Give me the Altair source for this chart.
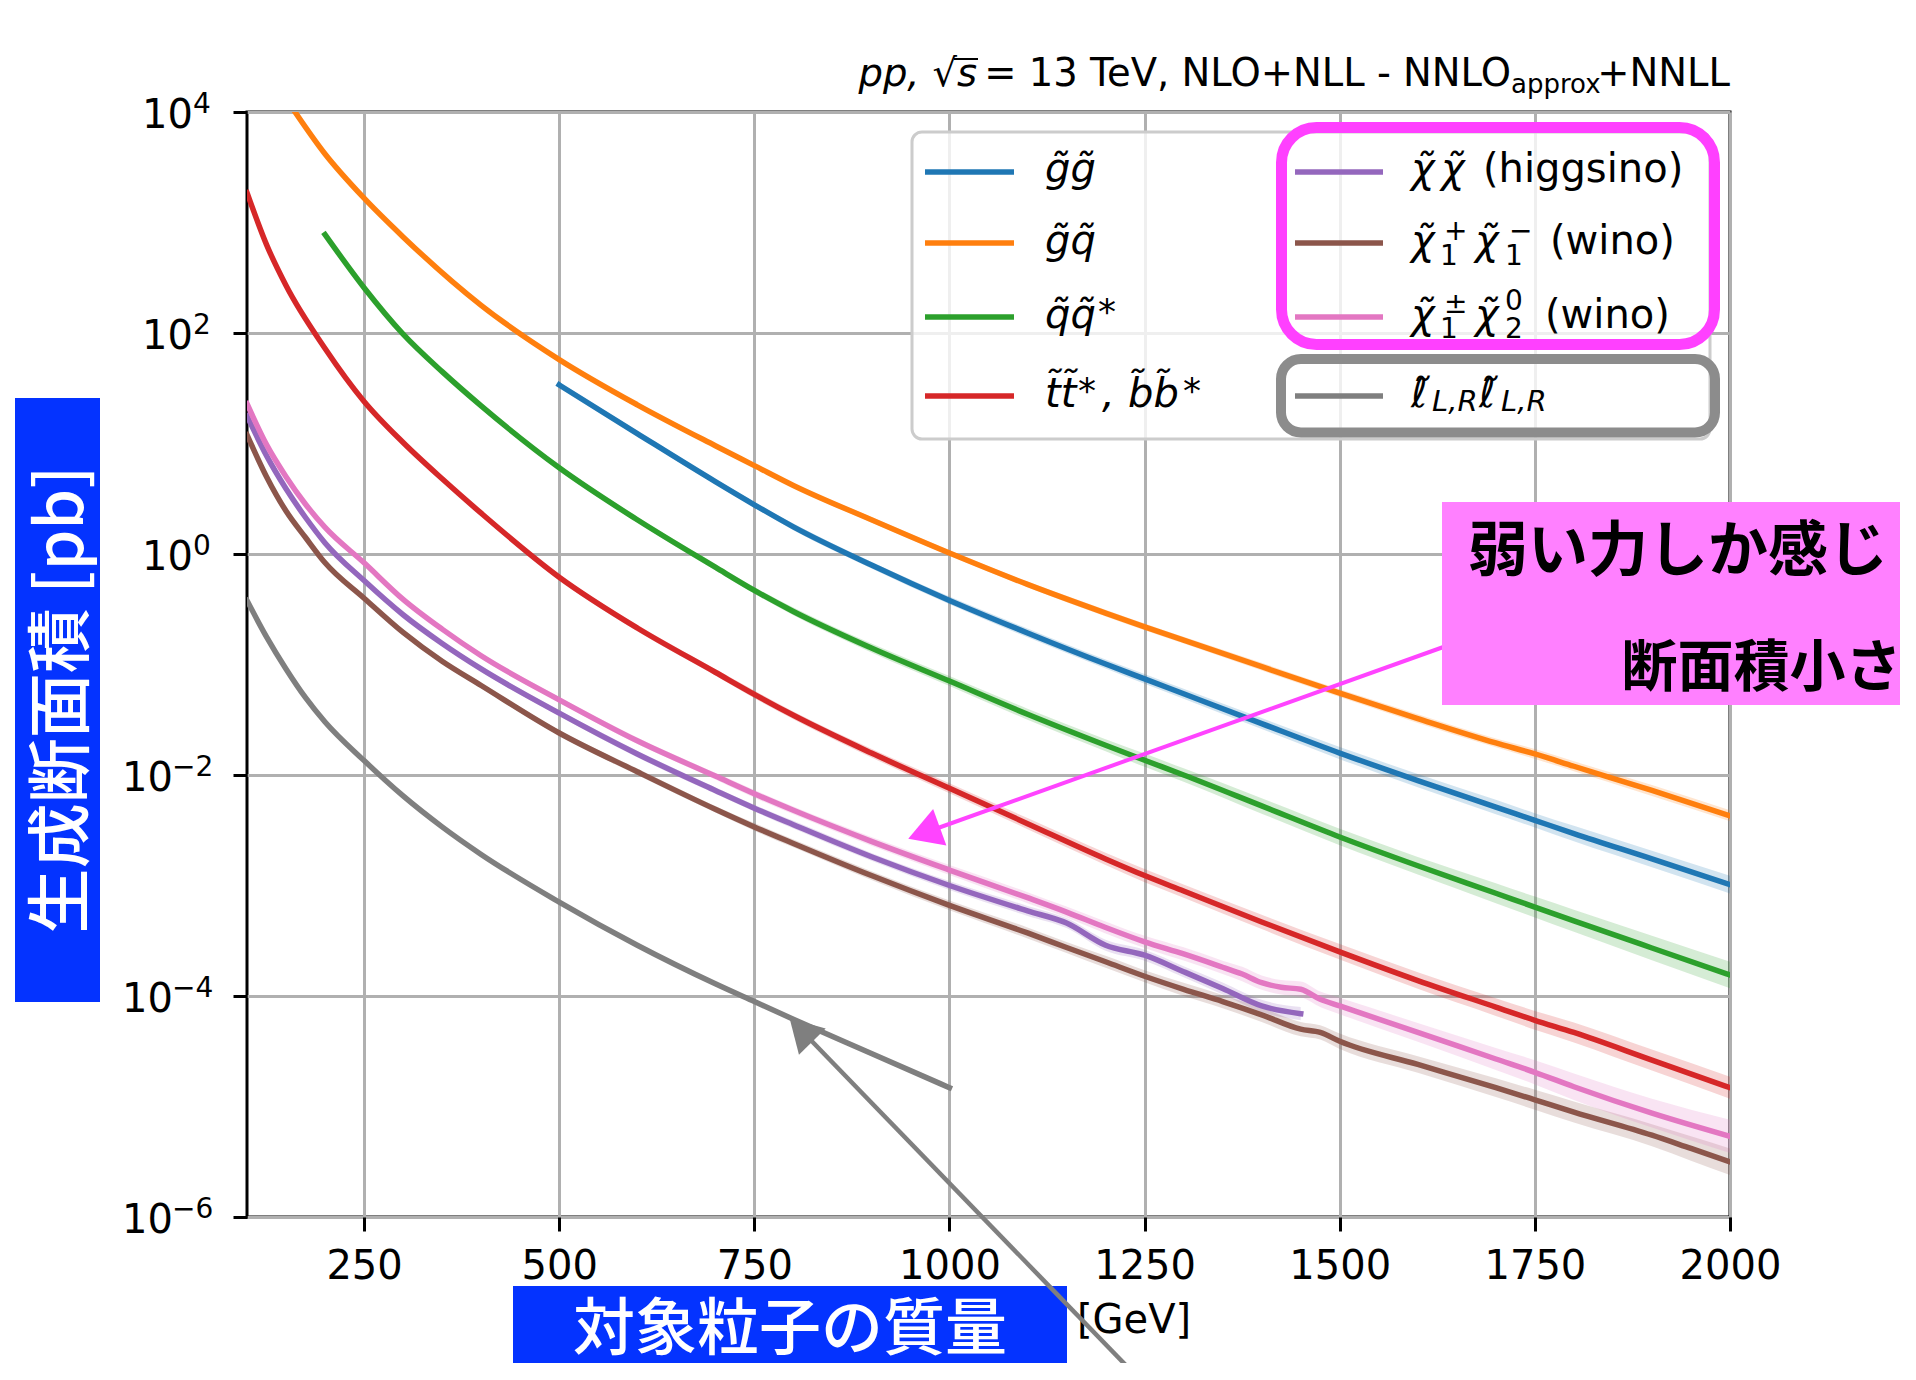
import altair as alt
import pandas as pd

# ---------------- values (mass in GeV, cross section in pb) ----------------
gg_mass = [500, 600, 700, 750, 800, 900, 1000, 1100, 1200, 1250, 1300, 1400, 1500, 1600, 1700, 1750, 1800, 1900, 2000]
gg_xsec = [33.9, 12.3, 4.52, 2.79, 1.76, 0.794, 0.380, 0.193, 0.101, 0.0741, 0.0543, 0.0292, 0.0158, 0.00891,
           0.00513, 0.00389, 0.00295, 0.00174, 0.00102]
gg_unc = [0.025, 0.025, 0.025, 0.025, 0.03, 0.03, 0.035, 0.04, 0.04, 0.045, 0.045, 0.05, 0.055, 0.06, 0.065,
          0.065, 0.07, 0.075, 0.08]

gq_mass = [150, 200, 250, 300, 400, 500, 600, 700, 750, 800, 900, 1000, 1100, 1200, 1250, 1300, 1400, 1500,
           1600, 1700, 1750, 1800, 1900, 2000]
gq_xsec = [13200, 4170, 1660, 741, 178, 57.5, 22.4, 9.55, 6.31, 4.17, 2.04, 1.02, 0.531, 0.292, 0.219, 0.166,
           0.0955, 0.0550, 0.0324, 0.0195, 0.0155, 0.0120, 0.00724, 0.00427]
gq_unc = [0.02, 0.02, 0.02, 0.02, 0.02, 0.02, 0.02, 0.02, 0.02, 0.02, 0.025, 0.025, 0.025, 0.03, 0.03, 0.03,
          0.035, 0.035, 0.04, 0.04, 0.045, 0.045, 0.05, 0.05]

qq_mass = [200, 250, 300, 350, 400, 500, 600, 700, 750, 800, 900, 1000, 1100, 1200, 1250, 1300, 1400, 1500,
           1600, 1700, 1750, 1800, 1900, 2000]
qq_xsec = [776, 257, 97.7, 44.7, 21.9, 6.03, 2.04, 0.759, 0.468, 0.302, 0.141, 0.0708, 0.0355, 0.0186, 0.0136,
           0.0100, 0.00525, 0.00275, 0.00151, 0.000851, 0.000638, 0.000479, 0.000272, 0.000155]
qq_unc = [0.02, 0.02, 0.02, 0.02, 0.02, 0.025, 0.025, 0.03, 0.03, 0.035, 0.04, 0.045, 0.05, 0.055, 0.06, 0.06,
          0.07, 0.075, 0.08, 0.09, 0.095, 0.1, 0.11, 0.12]

tt_mass = [100, 125, 150, 200, 250, 300, 350, 400, 500, 600, 700, 750, 800, 900, 1000, 1100, 1200, 1250, 1300,
           1400, 1500, 1600, 1700, 1750, 1800, 1900, 2000]
tt_xsec = [1862, 631, 269, 72.4, 24.0, 10.2, 4.79, 2.34, 0.617, 0.214, 0.0851, 0.0537, 0.0347, 0.0158, 0.00759,
           0.00363, 0.00174, 0.00123, 0.000891, 0.000468, 0.000251, 0.000138, 7.94e-5, 6.03e-5, 4.68e-5,
           2.63e-5, 1.48e-5]
tt_unc = [0.02, 0.02, 0.02, 0.02, 0.02, 0.02, 0.02, 0.025, 0.025, 0.03, 0.03, 0.035, 0.035, 0.04, 0.045, 0.05,
          0.055, 0.06, 0.06, 0.065, 0.07, 0.075, 0.08, 0.085, 0.09, 0.095, 0.1]

hh_mass = [100, 125, 150, 175, 200, 250, 300, 350, 400, 500, 600, 700, 750, 800, 900, 1000, 1100, 1150, 1200,
           1250, 1300, 1350, 1400, 1450]
hh_xsec = [17.8, 7.76, 3.89, 2.14, 1.26, 0.575, 0.282, 0.155, 0.0912, 0.0363, 0.0155, 0.00724, 0.00501, 0.00355,
           0.00182, 0.00100, 0.000589, 0.000457, 0.000288, 0.000234, 0.000166, 0.000117, 8.13e-5, 6.92e-5]
hh_unc = [0.02, 0.02, 0.02, 0.02, 0.02, 0.02, 0.02, 0.02, 0.025, 0.025, 0.03, 0.03, 0.03, 0.035, 0.035, 0.04,
          0.045, 0.045, 0.05, 0.05, 0.05, 0.055, 0.055, 0.06]

c1c1_mass = [100, 125, 150, 175, 200, 250, 300, 350, 400, 500, 600, 700, 750, 800, 900, 1000, 1100, 1150, 1200,
             1250, 1300, 1350, 1400, 1450, 1475, 1500, 1600, 1700, 1750, 1800, 1900, 1950, 2000]
c1c1_xsec = [12.0, 5.01, 2.45, 1.41, 0.832, 0.398, 0.195, 0.107, 0.0646, 0.0240, 0.0107, 0.00490, 0.00339,
             0.00240, 0.00123, 0.000661, 0.000372, 0.000275, 0.000204, 0.000151, 0.000115, 8.91e-5, 6.76e-5,
             5.01e-5, 4.68e-5, 3.89e-5, 2.40e-5, 1.48e-5, 1.15e-5, 8.91e-6, 5.50e-6, 4.17e-6, 3.16e-6]
c1c1_unc = [0.02, 0.02, 0.02, 0.02, 0.02, 0.02, 0.02, 0.02, 0.025, 0.025, 0.03, 0.03, 0.035, 0.035, 0.04, 0.045,
            0.05, 0.05, 0.055, 0.055, 0.06, 0.06, 0.065, 0.065, 0.065, 0.07, 0.075, 0.085, 0.09, 0.095, 0.1,
            0.11, 0.12]

c1n2_mass = [100, 125, 150, 175, 200, 250, 300, 350, 400, 500, 600, 700, 750, 800, 900, 1000, 1100, 1150, 1200,
             1250, 1300, 1350, 1375, 1400, 1425, 1450, 1475, 1500, 1600, 1700, 1750, 1800, 1900, 2000]
c1n2_xsec = [22.9, 9.77, 5.01, 2.82, 1.74, 0.832, 0.389, 0.209, 0.120, 0.0479, 0.0204, 0.00977, 0.00676,
             0.00479, 0.00251, 0.00138, 0.000776, 0.000575, 0.000417, 0.000309, 0.000240, 0.000182, 0.000158,
             0.000132, 0.000120, 0.000115, 9.33e-5, 8.13e-5, 4.68e-5, 2.69e-5, 2.04e-5, 1.51e-5, 8.71e-6,
             5.37e-6]
c1n2_unc = [0.02, 0.02, 0.02, 0.02, 0.02, 0.02, 0.02, 0.02, 0.025, 0.025, 0.03, 0.03, 0.035, 0.035, 0.04, 0.045,
            0.05, 0.05, 0.055, 0.055, 0.06, 0.06, 0.065, 0.065, 0.065, 0.07, 0.07, 0.075, 0.085, 0.1, 0.11,
            0.12, 0.13, 0.15]

sl_mass = [100, 125, 150, 175, 200, 250, 300, 350, 400, 500, 600, 700, 750, 800, 900, 1000]
sl_xsec = [0.380, 0.178, 0.0912, 0.0501, 0.0302, 0.0135, 0.00646, 0.00339, 0.00191, 0.000708, 0.000288,
           0.000129, 8.91e-5, 6.17e-5, 3.02e-5, 1.48e-5]
sl_unc = [0.02, 0.02, 0.02, 0.02, 0.02, 0.02, 0.02, 0.02, 0.02, 0.02, 0.02, 0.02, 0.02, 0.02, 0.02, 0.02]

series_keys = ["gg", "gq", "qq", "tt", "hh", "c1c1", "c1n2", "sl"]
series_colors = ["#1f77b4", "#ff7f0e", "#2ca02c", "#d62728", "#9467bd", "#8c564b", "#e377c2", "#7f7f7f"]
series_mass = [gg_mass, gq_mass, qq_mass, tt_mass, hh_mass, c1c1_mass, c1n2_mass, sl_mass]
series_xsec = [gg_xsec, gq_xsec, qq_xsec, tt_xsec, hh_xsec, c1c1_xsec, c1n2_xsec, sl_xsec]
series_unc = [gg_unc, gq_unc, qq_unc, tt_unc, hh_unc, c1c1_unc, c1n2_unc, sl_unc]

x_ticks = [250, 500, 750, 1000, 1250, 1500, 1750, 2000]
y_ticks = [1e-6, 1e-4, 1e-2, 1e0, 1e2, 1e4]
y_tick_exponents = ["\u22126", "\u22124", "\u22122", "0", "2", "4"]

y_title = "生成断面積 [pb]"
x_title = "対象粒子の質量"
x_unit = "[GeV]"
note_line1 = "弱い力しか感じ"
note_line2 = "断面積小さ"

rows = []
for key, ms, xs, us in zip(series_keys, series_mass, series_xsec, series_unc):
    for m, s, u in zip(ms, xs, us):
        rows.append({"series": key, "mass": m, "xsec": s, "lo": s * 10 ** (-u), "hi": s * 10 ** u})
df = pd.DataFrame(rows)
ydf = pd.DataFrame({"v": y_ticks, "e": y_tick_exponents})
one = pd.DataFrame({"k": [0]})

W, H = 1483, 1105
FONT = "DejaVu Sans"
CJK = "Noto Sans CJK JP"
BLUE = "#0433ff"

x_scale = alt.Scale(domain=[100, 2000], nice=False, zero=False)
y_scale = alt.Scale(type="log", domain=[1e-6, 1e4], nice=False)
x_axis = alt.Axis(values=x_ticks, format="d", labelFont=FONT, labelFontSize=40, labelColor="black",
                  labelPadding=15, labelFlush=False, labelOverlap=False, tickColor="black", tickWidth=3,
                  tickSize=14, domain=False, grid=True, gridColor="#b0b0b0", gridWidth=3, title=None)
y_axis = alt.Axis(values=y_ticks, labels=False, tickColor="black", tickWidth=3, tickSize=14, domain=False,
                  grid=True, gridColor="#b0b0b0", gridWidth=3, title=None)


def txt(s, x, y, size=40, style="normal", weight="normal", font=FONT, align="left",
        baseline="alphabetic", color="black", angle=0):
    return alt.Chart(one).mark_text(text=s, font=font, fontSize=size, fontStyle=style, fontWeight=weight,
                                    align=align, baseline=baseline, color=color, angle=angle).encode(
        x=alt.value(x), y=alt.value(y))


def box(x, x2, y, y2, **kw):
    return alt.Chart(one).mark_rect(**kw).encode(x=alt.value(x), x2=alt.value(x2), y=alt.value(y),
                                                 y2=alt.value(y2))


def seg(x, y, x2, y2, color, width):
    return alt.Chart(one).mark_rule(color=color, strokeWidth=width).encode(
        x=alt.value(x), y=alt.value(y), x2=alt.value(x2), y2=alt.value(y2))


def head(x, y, angle, color, size):
    return alt.Chart(one).mark_point(shape="triangle-up", filled=True, size=size, angle=angle, color=color,
                                     opacity=1).encode(x=alt.value(x), y=alt.value(y))


layers = []
for key, col in zip(series_keys, series_colors):
    layers.append(alt.Chart(df).transform_filter(alt.datum.series == key).mark_area(
        clip=True, color=col, opacity=0.2, interpolate="monotone").encode(
        x=alt.X("mass:Q", scale=x_scale, axis=x_axis),
        y=alt.Y("lo:Q", scale=y_scale, axis=y_axis), y2="hi:Q"))
for key, col in zip(series_keys, series_colors):
    layers.append(alt.Chart(df).transform_filter(alt.datum.series == key).mark_line(
        clip=True, color=col, strokeWidth=5.5, strokeCap="square", strokeJoin="round",
        interpolate="monotone").encode(
        x=alt.X("mass:Q", scale=x_scale, axis=x_axis),
        y=alt.Y("xsec:Q", scale=y_scale, axis=y_axis)))

# y tick labels 10^n drawn through the y scale
layers.append(alt.Chart(ydf).transform_filter("datum.v >= 1").mark_text(
    text="10", align="right", baseline="alphabetic", dy=16, font=FONT, fontSize=40, color="black").encode(
    y=alt.Y("v:Q", scale=y_scale, axis=y_axis), x=alt.value(-54)))
layers.append(alt.Chart(ydf).transform_filter("datum.v < 1").mark_text(
    text="10", align="right", baseline="alphabetic", dy=16, font=FONT, fontSize=40, color="black").encode(
    y=alt.Y("v:Q", scale=y_scale, axis=y_axis), x=alt.value(-74)))
layers.append(alt.Chart(ydf).transform_filter("datum.v >= 1").mark_text(
    align="left", baseline="alphabetic", dy=1, font=FONT, fontSize=28, color="black").encode(
    y=alt.Y("v:Q", scale=y_scale, axis=y_axis), x=alt.value(-54), text="e:N"))
layers.append(alt.Chart(ydf).transform_filter("datum.v < 1").mark_text(
    align="left", baseline="alphabetic", dy=1, font=FONT, fontSize=28, color="black").encode(
    y=alt.Y("v:Q", scale=y_scale, axis=y_axis), x=alt.value(-75), text="e:N"))

# legend
layers.append(box(665, 1463, 20, 327, fill="white", fillOpacity=0.8, stroke="#cccccc", strokeWidth=3,
                  cornerRadius=10))
sw_rows = [60, 131, 205, 284]
base_rows = [70, 142, 216, 294.5]
for i in range(4):
    layers.append(seg(678, sw_rows[i], 767, sw_rows[i], series_colors[i], 5.5))
    layers.append(seg(1048, sw_rows[i], 1136, sw_rows[i], series_colors[i + 4], 5.5))
T = "\u0303"
layers += [
    txt("g" + T + "g" + T, 798, base_rows[0], style="italic"),
    txt("g" + T + "q" + T, 798, base_rows[1], style="italic"),
    txt("q" + T + "q" + T, 798, base_rows[2], style="italic"),
    txt("*", 851, base_rows[2] - 4, size=36),
    txt("t" + T + "t" + T, 798, base_rows[3], style="italic"),
    txt("*", 831, base_rows[3] - 4, size=36),
    txt(",", 855, base_rows[3], style="italic"),
    txt("b" + T + "b" + T, 881, base_rows[3], style="italic"),
    txt("*", 936, base_rows[3] - 4, size=36),
    txt("\u03c7" + T, 1164, base_rows[0], style="italic"),
    txt("\u03c7" + T, 1194, base_rows[0], style="italic"),
    txt("(higgsino)", 1236, base_rows[0]),
    txt("\u03c7" + T, 1164, base_rows[1], style="italic"),
    txt("1", 1193, base_rows[1] + 11, size=28),
    txt("+", 1197, base_rows[1] - 14, size=28),
    txt("\u03c7" + T, 1228, base_rows[1], style="italic"),
    txt("1", 1258, base_rows[1] + 11, size=28),
    txt("\u2212", 1262, base_rows[1] - 14, size=28),
    txt("(wino)", 1303, base_rows[1]),
    txt("\u03c7" + T, 1164, base_rows[2], style="italic"),
    txt("1", 1193, base_rows[2] + 10, size=28),
    txt("\u00b1", 1197, base_rows[2] - 15, size=28),
    txt("\u03c7" + T, 1228, base_rows[2], style="italic"),
    txt("2", 1258, base_rows[2] + 10, size=28),
    txt("0", 1258, base_rows[2] - 18, size=28),
    txt("(wino)", 1298, base_rows[2]),
    txt("\u2113" + T, 1164, base_rows[3], style="italic"),
    txt("L,R", 1185, base_rows[3] + 4, size=29, style="italic"),
    txt("\u2113" + T, 1232, base_rows[3], style="italic"),
    txt("L,R", 1254, base_rows[3] + 4, size=29, style="italic"),
]
# highlight frames around legend entries
layers.append(box(1034.5, 1467.5, 15.5, 232.5, fillOpacity=0, stroke="#ff40ff", strokeWidth=11,
                  cornerRadius=35))
layers.append(box(1034, 1468, 247, 320.5, fillOpacity=0, stroke="#8c8c8c", strokeWidth=10, cornerRadius=20))

# pink annotation
layers.append(seg(1202, 533, 677, 721, "#ff44ff", 4))
layers.append(head(677, 721, 250, "#ff44ff", 1500))
layers.append(box(1195, 1700, 390, 593, fill="#ff80ff"))
layers.append(txt(note_line1, 1431, 441, size=60, weight="bold", font=CJK, align="center", baseline="middle"))
layers.append(txt(note_line2, 1514.5, 556.5, size=56, weight="bold", font=CJK, align="center",
                  baseline="middle"))

# axis titles
layers.append(box(266, 820, 1174, 1259, fill=BLUE))
layers.append(txt(x_title, 543, 1219, size=62, weight=500, font=CJK, align="center", baseline="middle",
                  color="white"))
layers.append(txt(x_unit, 830, 1221))
layers.append(box(-232, -147, 286, 890, fill=BLUE))
layers.append(txt(y_title, -184, 587.5, size=65, weight=500, font=CJK, align="center", baseline="middle",
                  color="white", angle=270))

# gray annotation arrow
layers.append(seg(898, 1273, 554, 918, "#7f7f7f", 4.5))
layers.append(head(554, 918, 315.6, "#7f7f7f", 1400))

# title
layers += [
    txt("pp,", 672.6, -26, size=38.5, style="italic", align="right"),
    txt("\u221a", 710, -26, size=38.5, align="right"),
    txt("s", 730, -26, size=38.5, style="italic", align="right"),
    txt("= 13 TeV, NLO+NLL - NNLO", 1264, -26, size=38.5, align="right"),
    txt("approx", 1264, -19, size=26),
    txt("+NNLL", 1483, -26, size=38.5, align="right"),
    seg(707, -53, 731, -53, "black", 2),
]

chart = alt.layer(*layers).properties(
    width=W, height=H,
    padding={"left": 239, "top": 104, "right": 170, "bottom": 146},
    autosize=alt.AutoSizeParams(type="none"),
).configure_view(stroke="black", strokeWidth=3)

chart.save("out.html", embed_options={"renderer": "svg", "actions": False})
